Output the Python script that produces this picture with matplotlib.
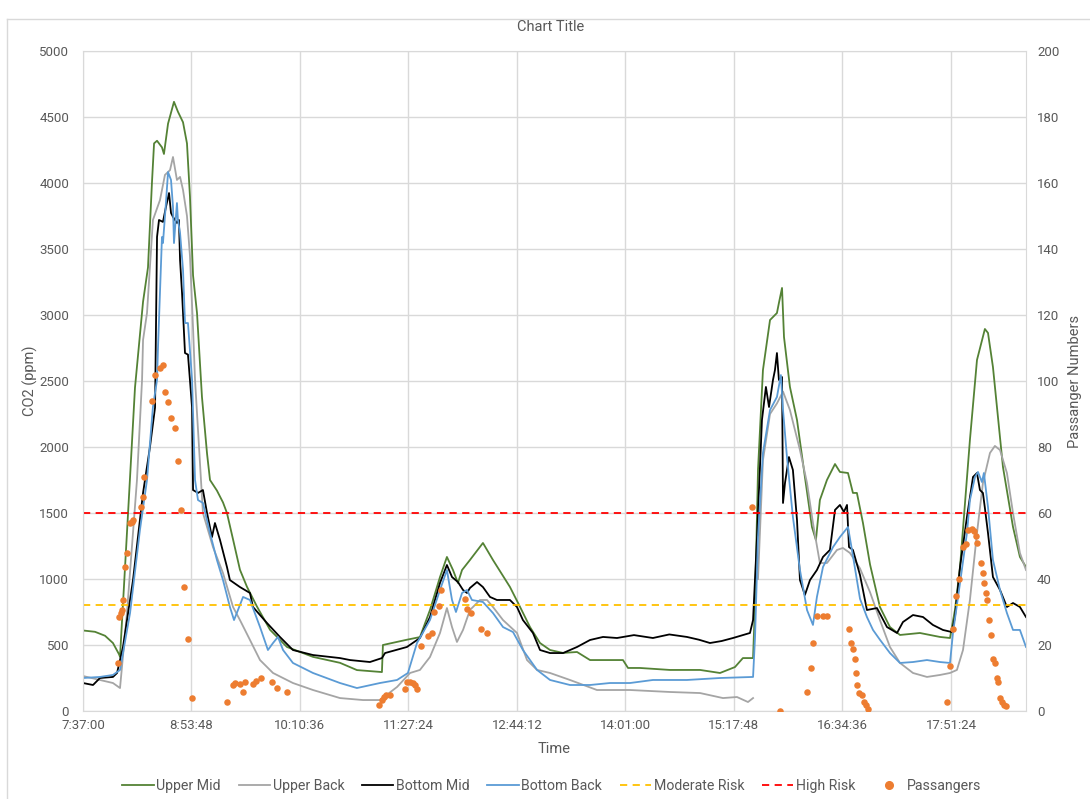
import numpy as np
import matplotlib.pyplot as plt
from matplotlib.lines import Line2D

plt.rcParams['font.family'] = ['Roboto', 'DejaVu Sans']

# minutes after 7:37:00, CO2 in ppm
upper_mid_t = [0, 8.5, 15.6, 21.2, 25.5, 26.2, 31.9, 36.8, 42.5, 46.0, 48.8, 50.3, 52.4, 55.9, 57.3, 60.2,
               64.4, 67.2, 70.8, 73.6, 75.7, 77.9, 80.7, 84.2, 87.8, 89.9, 94.8, 99.1, 101.9, 106.2, 111.1,
               116.1, 123.2, 132.4, 144.4, 162.8, 181.9, 193.9, 211.6, 212.3, 229.3, 238.5, 245.6, 252.7,
               257.6, 261.9, 265.4, 268.3, 273.9, 283.1, 290.2, 302.2, 309.3, 316.4, 323.5, 330.6, 339.8,
               349.7, 358.9, 382.2, 385.8, 394.2, 415.5, 436.8, 450.9, 461.5, 467.1, 474.3, 475.7, 477.8,
               481.3, 486.3, 491.2, 492.6, 494.8, 496.2, 500.4, 505.4, 511.0, 516.0, 518.8, 521.6, 526.6,
               532.3, 535.8, 541.5, 545.0, 547.8, 552.1, 557.1, 564.1, 571.2, 578.3, 592.4, 606.6, 613.7,
               617.2, 620.8, 627.8, 632.8, 638.4, 640.6, 644.1, 651.2, 658.3, 663.2, 667.5]
upper_mid = [610, 600, 570, 515, 430, 410, 1500, 2450, 3100, 3360, 4000, 4300, 4320, 4270, 4220, 4450,
             4615, 4540, 4460, 4300, 3900, 3300, 3015, 2380, 1950, 1750, 1670, 1580, 1500, 1300, 1070,
             940, 790, 615, 485, 410, 365, 310, 295, 500, 540, 560, 765, 1015,
             1167, 1068, 970, 1068, 1144, 1273, 1144, 940, 790, 636, 515, 462, 440,
             447, 386, 386, 326, 326, 311, 311, 288, 333, 401, 401, 818, 1826,
             2583, 2962, 3015, 3091, 3205, 2833, 2455, 2205, 1773, 1394, 1295, 1598, 1750,
             1871, 1811, 1803, 1652, 1652, 1424, 1110, 788, 636, 576, 591, 561, 553,
             765, 1091, 2053, 2659, 2894, 2864, 2606, 1848, 1394, 1167, 1091]

upper_back_t = [0, 12.0, 21.2, 26.2, 31.1, 38.2, 41.8, 42.5, 45.3, 49.5, 54.5, 58.0, 61.6, 63.7, 66.5,
                68.7, 70.8, 73.6, 75.7, 77.9, 79.3, 84.9, 92.0, 99.1, 106.2, 111.1, 118.2, 125.3, 134.5,
                148.6, 162.8, 181.9, 198.2, 210.2, 222.3, 231.5, 238.5, 245.6, 252.7, 257.6, 261.2, 264.7,
                269.0, 273.9, 281.0, 286.0, 290.2, 297.3, 307.2, 314.3, 321.4, 330.6, 344.7, 363.8, 387.2,
                415.5, 436.8, 453.0, 462.9, 470.7, 474.3, 476.0, 477.8, 481.3, 486.3, 491.2, 495.5, 500.4,
                507.5, 512.5, 516.7, 521.6, 526.6, 533.7, 537.9, 542.9, 550.0, 557.1, 564.1, 571.2, 578.3,
                587.5, 597.4, 606.6, 613.7, 618.6, 622.9, 627.8, 632.8, 637.0, 642.0, 645.5, 649.1, 654.0,
                658.3, 663.2, 667.5]
upper_back = [265, 235, 212, 174, 742, 1750, 2508, 2810, 3015, 3720, 3871, 4061, 4098, 4197, 4023,
              4046, 3947, 3750, 3450, 2900, 2508, 1500, 1242, 1045, 788, 689, 538, 386, 288,
              212, 159, 98, 83, 83, 182, 288, 311, 409, 591, 780, 636, 523,
              614, 765, 841, 841, 788, 689, 591, 386, 311, 288, 235, 159, 159,
              144, 136, 98, 106, 68, 98, np.nan, 1000, 1900, 2250, 2330, 2420, 2280,
              1977, 1727, 1424, 1121, 1121, 1220, 1235, 1197, 1080, 900, 689, 485, 364,
              288, 258, 273, 288, 311, 462, 841, 1348, 1727, 1955, 2008, 1977, 1803,
              1500, 1197, 1068]

bottom_mid_t = [0, 7.1, 12.0, 21.2, 24.1, 28.3, 35.4, 42.5, 47.4, 51.0, 52.4, 53.8, 56.6, 58.7, 60.9,
                62.3, 63.7, 66.5, 67.9, 68.7, 70.1, 70.8, 72.2, 74.3, 77.2, 77.9, 81.4, 84.9, 87.8, 91.3,
                93.4, 97.0, 101.9, 104.0, 111.1, 118.2, 120.3, 130.2, 139.4, 148.6, 162.8, 181.9, 189.0,
                203.1, 211.6, 213.8, 229.3, 238.5, 245.6, 252.7, 257.6, 261.2, 265.4, 269.0, 271.8, 273.9,
                278.9, 283.1, 288.1, 293.0, 302.2, 307.2, 311.4, 318.5, 323.5, 330.6, 339.8, 349.7, 358.9,
                368.1, 378.0, 390.0, 403.4, 415.0, 427.5, 436.0, 443.8, 452.0, 460.1, 472.1, 474.3, 477.1,
                480.6, 483.4, 485.6, 488.4, 489.8, 491.2, 492.6, 494.8, 495.5, 496.9, 499.7, 502.5, 505.4,
                507.5, 511.0, 514.6, 519.5, 523.8, 528.7, 532.3, 535.8, 538.6, 540.8, 542.2, 545.0, 550.0,
                554.9, 562.0, 569.1, 576.2, 580.4, 587.5, 594.6, 601.6, 608.7, 615.1, 617.2, 620.8, 625.7,
                630.0, 632.8, 634.9, 637.0, 638.4, 640.6, 644.1, 649.1, 654.0, 658.3, 663.2, 667.5]
bottom_mid = [212, 197, 250, 258, 288, 485, 992, 1652, 2000, 2300, 3591, 3720, 3705, 3818, 3924,
              3773, 3743, 3697, 3720, 3417, 3167, 3015, 2712, 2700, 2300, 1674, 1652, 1674, 1500, 1318,
              1424, 1295, 1091, 992, 939, 894, 788, 667, 561, 462, 424, 401, 386,
              371, 401, 439, 485, 553, 712, 970, 1106, 1015, 977, 917, 894, 932,
              977, 939, 864, 841, 841, 788, 689, 591, 462, 439, 439, 485, 538,
              561, 553, 575, 553, 580, 561, 540, 515, 530, 553, 591, 689, 1318,
              2205, 2455, 2303, 2508, 2583, 2712, 2508, 2530, 1576, 1727, 1924, 1826, 1447,
              992, 879, 992, 1068, 1167, 1220, 1523, 1561, 1508, 1561, 1242, 1220, 1030,
              765, 780, 636, 591, 674, 727, 712, 652, 614, 598, 712, 1091, 1470,
              1773, 1803, 1674, 1652, 1538, 1348, 1015, 917, 788, 818, 788, 712]

bottom_back_t = [0, 12.0, 21.2, 26.2, 33.3, 40.3, 45.3, 49.5, 52.4, 53.1, 55.9, 56.6, 58.7, 60.2, 62.3,
                 63.7, 64.4, 66.5, 67.2, 68.7, 70.8, 72.2, 74.3, 77.2, 79.3, 81.4, 84.9, 89.9, 94.8, 99.1,
                 104.0, 106.9, 109.7, 113.3, 118.2, 125.3, 130.9, 134.5, 138.0, 141.6, 148.6, 162.8, 181.9,
                 193.9, 210.2, 222.3, 230.0, 236.4, 245.6, 252.7, 257.6, 261.2, 264.0, 268.3, 271.8, 275.3,
                 283.1, 290.2, 297.3, 304.4, 311.4, 321.4, 330.6, 344.7, 358.9, 373.0, 387.2, 403.4, 427.5,
                 450.9, 474.3, 475.7, 477.8, 481.3, 486.3, 491.2, 494.0, 495.5, 498.3, 502.5, 507.5, 512.5,
                 516.7, 519.5, 523.8, 530.9, 535.8, 541.5, 544.3, 550.0, 554.9, 559.2, 564.1, 571.2, 578.3,
                 587.5, 597.4, 606.6, 613.7, 615.8, 620.8, 625.7, 627.8, 631.4, 633.5, 636.3, 637.7, 640.6,
                 644.1, 649.1, 654.0, 658.3, 663.2, 667.5]
bottom_back = [250, 258, 273, 311, 742, 1371, 1750, 2303, 2508, 2758, 3591, 3545, 3848, 4083, 4023,
               3818, 3545, 3848, 3720, 3621, 3341, 2939, 2939, 2508, 1750, 1598, 1576, 1348, 1144, 992,
               788, 689, 765, 864, 841, 636, 462, 515, 561, 462, 364, 288, 212,
               174, 212, 235, 288, 515, 689, 917, 1068, 841, 750, 894, 917, 841,
               826, 742, 636, 598, 462, 311, 235, 197, 197, 212, 212, 235, 235,
               250, 258, 561, 1318, 1955, 2280, 2379, 2545, 2280, 1924, 1470, 1068, 765,
               652, 864, 1091, 1242, 1318, 1394, 1220, 850, 712, 614, 540, 439, 364,
               371, 386, 371, 364, 591, 970, 1348, 1598, 1773, 1811, 1735, 1803, 1545,
               1144, 917, 742, 614, 614, 485]

moderate_risk = 800
high_risk = 1500

# passenger counts (secondary axis)
pass_t = [24.8, 25.8, 26.9, 27.6, 28.3, 29.7, 31.1, 33.3, 34.7, 35.4, 41.1, 42.5, 43.2, 48.8, 51.0,
          54.5, 56.6, 58.0, 60.2, 62.3, 65.1, 67.2, 69.4, 71.5, 74.3, 77.2, 101.9, 106.2, 107.6, 111.1,
          113.3, 114.7, 120.3, 122.5, 126.0, 133.8, 137.3, 144.4, 209.5, 211.6, 213.1, 214.5, 217.3,
          227.9, 229.3, 231.5, 233.6, 235.0, 236.4, 239.2, 244.2, 247.0, 248.4, 252.0, 253.4, 270.4,
          271.8, 274.6, 281.7, 286.0, 473.5, 493.3, 512.5, 515.3, 516.7, 519.5, 523.8, 526.6, 542.2,
          543.6, 545.0, 546.4, 547.1, 547.9, 549.3, 551.4, 552.8, 554.3, 555.7, 611.5, 613.7, 615.9,
          618.0, 620.1, 622.9, 625.0, 626.5, 629.3, 630.7, 632.1, 632.8, 635.6, 637.0, 637.8, 639.2,
          639.9, 641.3, 642.7, 644.1, 645.6, 647.0, 647.7, 649.1, 650.5, 651.9, 653.3]
passengers = [14.5, 28.5, 29.7, 30.5, 33.6, 43.6, 47.9, 57.0, 57.3, 57.9, 61.8, 64.8, 70.9, 94.0, 101.8,
              104.0, 104.8, 96.7, 93.6, 88.8, 85.8, 75.8, 60.9, 37.6, 21.8, 3.9, 2.7, 7.9, 8.5, 8.2,
              5.8, 8.8, 8.2, 9.1, 10.0, 8.8, 7.0, 5.8, 1.8, 3.3, 4.2, 4.8, 4.8,
              6.7, 8.8, 8.8, 8.5, 7.9, 6.7, 19.7, 22.7, 23.6, 30.0, 31.8, 36.7, 33.9,
              30.9, 29.7, 24.8, 23.6, 61.8, 0.0, 5.8, 13.0, 20.6, 28.8, 28.8, 28.8, 24.8,
              20.6, 18.8, 15.8, 11.5, 7.9, 5.5, 4.8, 2.7, 1.8, 0.6, 2.7, 13.6, 24.8,
              34.8, 40.0, 49.7, 50.6, 54.8, 55.2, 54.6, 53.0, 50.9, 44.8, 41.8, 38.8, 35.8,
              33.6, 27.6, 23.0, 15.8, 14.5, 10.0, 8.8, 3.9, 2.7, 1.8, 1.5]

tick_step = 76.8  # 1:16:48
tick_labels = ["7:37:00", "8:53:48", "10:10:36", "11:27:24", "12:44:12",
               "14:01:00", "15:17:48", "16:34:36", "17:51:24"]

grid_c = "#D9D9D9"
text_c = "#595959"

fig = plt.figure(figsize=(10.9, 7.99), dpi=100)
W, H = 1090, 799
ax = fig.add_axes([83 / W, 1 - 711 / H, (1026 - 83) / W, (711 - 51) / H])

ax.plot(upper_mid_t, upper_mid, color="#548235", lw=1.3, label="Upper Mid")
ax.plot(upper_back_t, upper_back, color="#A5A5A5", lw=1.3, label="Upper Back")
ax.plot(bottom_mid_t, bottom_mid, color="black", lw=1.3, label="Bottom Mid")
ax.plot(bottom_back_t, bottom_back, color="#5B9BD5", lw=1.3, label="Bottom Back")
ax.axhline(moderate_risk, color="#FFC000", lw=1.3, ls=(0, (4, 3)), label="Moderate Risk")
ax.axhline(high_risk, color="#FF0000", lw=1.3, ls=(0, (4, 3)), label="High Risk")

ax.set_xlim(0, 667.5)
ax.set_ylim(0, 5000)
ax.set_yticks(np.arange(0, 5001, 500))
ax.set_xticks(np.arange(len(tick_labels)) * tick_step)
ax.set_xticklabels(tick_labels)
ax.grid(True, color=grid_c, lw=1)
ax.set_axisbelow(True)
for s in ax.spines.values():
    s.set_color(grid_c)
ax.tick_params(length=0, colors=text_c, labelsize=9.5)
ax.tick_params(axis="y", pad=10)
ax.tick_params(axis="x", pad=6)

ax2 = ax.twinx()
ax2.scatter(pass_t, passengers, s=22, color="#ED7D31", zorder=5, label="Passangers", linewidths=0)
ax2.set_ylim(0, 200)
ax2.set_yticks(np.arange(0, 201, 20))
ax2.tick_params(length=0, colors=text_c, labelsize=9.5, pad=8)
for s in ax2.spines.values():
    s.set_visible(False)

fig.text(551 / W, 1 - 27 / H, "Chart Title", ha="center", va="center", fontsize=10.5, color=text_c)
fig.text(554 / W, 1 - 749 / H, "Time", ha="center", va="center", fontsize=10.5, color=text_c)
fig.text(30 / W, 1 - 381 / H, "CO2 (ppm)", ha="center", va="center", rotation=90, fontsize=10.5, color=text_c)
fig.text(1075 / W, 1 - 381 / H, "Passanger Numbers", ha="center", va="center", rotation=90,
         fontsize=10.5, color=text_c)

h1, l1 = ax.get_legend_handles_labels()
dot = Line2D([], [], ls="none", marker="o", markersize=5.5, color="#ED7D31")
leg = fig.legend(h1 + [dot], l1 + ["Passangers"], loc="center", bbox_to_anchor=(552 / W, 1 - 786 / H),
                 ncol=7, frameon=False, fontsize=10.2, handlelength=2.2, columnspacing=1.25,
                 handletextpad=0.2)
for t in leg.get_texts():
    t.set_color(text_c)

# chart border
fig.add_artist(Line2D([7 / W, 7 / W], [0, 1 - 19 / H], color=grid_c, lw=1, transform=fig.transFigure))
fig.add_artist(Line2D([7 / W, 1], [1 - 19 / H, 1 - 19 / H], color=grid_c, lw=1, transform=fig.transFigure))

fig.savefig("out.png", dpi=100)
